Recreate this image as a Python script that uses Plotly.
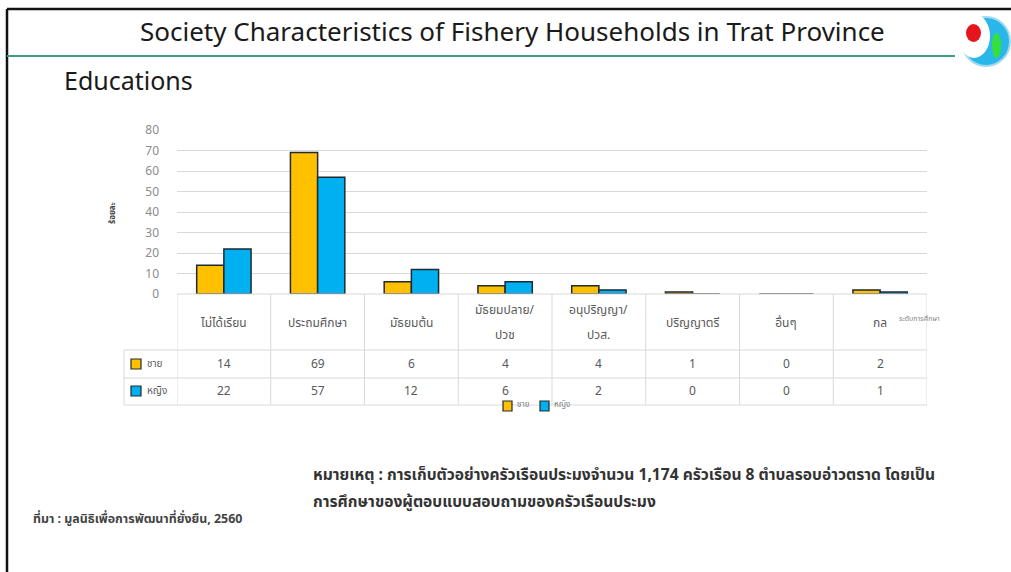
import plotly.graph_objects as go

# Education level of fishery household members (percent)
categories = ["ไม่ได้เรียน", "ประถมศึกษา", "มัธยมต้น", "มัธยมปลาย/ปวช",
              "อนุปริญญา/ปวส.", "ปริญญาตรี", "อื่นๆ", "กล"]
header_lines = [["ไม่ได้เรียน"], ["ประถมศึกษา"], ["มัธยมต้น"], ["มัธยมปลาย/", "ปวช"],
                ["อนุปริญญา/", "ปวส."], ["ปริญญาตรี"], ["อื่นๆ"], ["กล"]]
male = [14, 69, 6, 4, 4, 1, 0, 2]
female = [22, 57, 12, 6, 2, 0, 0, 1]
series_names = ["ชาย", "หญิง"]
y_ticks = [0, 10, 20, 30, 40, 50, 60, 70, 80]

W, H = 1011, 572
L, R, T, B = 177, 927, 130, 294  # plot area in pixels

def px(x):
    return (x - L) / (R - L)

def py(y):
    return (B - y) / (B - T)

THAI = "Tahoma, Noto Sans Thai, Noto Sans, sans-serif"
ORANGE = "#FFC000"
BLUE = "#00B0F0"
EDGE = "#1f2a33"
GRID = "#d9d9d9"
TXT = "#595959"

fig = go.Figure()
for name, vals, col in [(series_names[0], male, ORANGE), (series_names[1], female, BLUE)]:
    fig.add_trace(go.Bar(
        x=categories, y=vals, name=name,
        marker=dict(color=col, line=dict(color=EDGE, width=1.5)),
        hoverinfo="x+y", showlegend=False,
    ))

shapes = []
ann = []

def text(x, y, s, size, color, anchor="left", family=THAI, **kw):
    ann.append(dict(x=x, y=y, xref="paper", yref="paper", text=s, showarrow=False,
                    xanchor=anchor, yanchor="middle", font=dict(family=family, size=size, color=color), **kw))

# slide frame and title rule
shapes.append(dict(type="line", xref="paper", yref="paper", x0=px(7), x1=px(W), y0=py(9), y1=py(9),
                   line=dict(color="#111111", width=2.5)))
shapes.append(dict(type="line", xref="paper", yref="paper", x0=px(7), x1=px(7), y0=py(9), y1=py(H),
                   line=dict(color="#111111", width=2.5)))
shapes.append(dict(type="line", xref="paper", yref="paper", x0=px(7), x1=px(955), y0=py(56), y1=py(56),
                   line=dict(color="#3e9e7e", width=2)))

# emblem
shapes.append(dict(type="circle", xref="paper", yref="paper", x0=px(962), x1=px(1010), y0=py(17), y1=py(66),
                   fillcolor="#29b6e8", line=dict(color="#9fd9ef", width=2)))
shapes.append(dict(type="circle", xref="paper", yref="paper", x0=px(958), x1=px(990), y0=py(14), y1=py(58),
                   fillcolor="white", line=dict(width=0)))
shapes.append(dict(type="circle", xref="paper", yref="paper", x0=px(966), x1=px(981), y0=py(24), y1=py(42),
                   fillcolor="#e8141b", line=dict(width=0)))
shapes.append(dict(type="circle", xref="paper", yref="paper", x0=px(992), x1=px(1001), y0=py(33), y1=py(58),
                   fillcolor="#36e03a", line=dict(width=0)))

# data table grid
row_lines = [294, 350, 378, 405]
for i, yy in enumerate(row_lines):
    x0 = px(177) if i == 0 else px(124)
    shapes.append(dict(type="line", xref="paper", yref="paper", x0=x0, x1=1, y0=py(yy), y1=py(yy),
                       line=dict(color=GRID, width=1)))
for k in range(len(categories) + 1):
    shapes.append(dict(type="line", xref="x", yref="paper", x0=k - 0.5, x1=k - 0.5, y0=py(294), y1=py(405),
                       line=dict(color=GRID, width=1)))
shapes.append(dict(type="line", xref="paper", yref="paper", x0=px(124), x1=px(124), y0=py(350), y1=py(405),
                   line=dict(color=GRID, width=1)))

# series keys in the table rows and in the legend below it
for yy, col, name in [(364, ORANGE, series_names[0]), (391, BLUE, series_names[1])]:
    shapes.append(dict(type="rect", xref="paper", yref="paper", x0=px(131), x1=px(141), y0=py(yy - 5), y1=py(yy + 5),
                       fillcolor=col, line=dict(color=EDGE, width=1.2)))
    text(px(145), py(yy), name, 10, TXT)
for x0, col, name in [(503, ORANGE, series_names[0]), (540, BLUE, series_names[1])]:
    shapes.append(dict(type="rect", xref="paper", yref="paper", x0=px(x0), x1=px(x0 + 9), y0=py(401), y1=py(411),
                       fillcolor=col, line=dict(color=EDGE, width=1.2)))
    text(px(x0 + 12), py(405), name, 8, "#7f7f7f")

# header row and value rows
for cat, lines in zip(categories, header_lines):
    ys = [323] if len(lines) == 1 else [310, 335]
    for yy, s in zip(ys, lines):
        ann.append(dict(x=cat, y=py(yy), xref="x", yref="paper", text=s, showarrow=False,
                        xanchor="center", yanchor="middle", font=dict(family=THAI, size=12, color=TXT)))
for cat, m, f in zip(categories, male, female):
    for yy, v in [(364, m), (391, f)]:
        ann.append(dict(x=cat, y=py(yy), xref="x", yref="paper", text=str(v), showarrow=False,
                        xanchor="center", yanchor="middle", font=dict(family=THAI, size=12, color=TXT)))

# titles and notes
text(px(512), py(31), "Society Characteristics of Fishery Households in Trat Province", 26, "#1a1a1a",
     anchor="center", family="Noto Sans, sans-serif")
text(px(62), py(80), "Educations", 25, "#1a1a1a", family="Noto Sans, sans-serif")
text(px(113), py(213), "<b>ร้อยละ</b>", 8, "#404040", anchor="center", textangle=-90)
text(px(897), py(319), "ระดับการศึกษา", 7, "#7f7f7f")
text(px(311), py(475), "<b>หมายเหตุ : การเก็บตัวอย่างครัวเรือนประมงจำนวน 1,174 ครัวเรือน 8 ตำบลรอบอ่าวตราด โดยเป็น</b>",
     15.6, "#333333")
text(px(311), py(502), "<b>การศึกษาของผู้ตอบแบบสอบถามของครัวเรือนประมง</b>", 15.6, "#333333")
text(px(31), py(519), "<b>ที่มา : มูลนิธิเพื่อการพัฒนาที่ยั่งยืน, 2560</b>", 12.4, "#444444")

fig.update_layout(
    width=W, height=H,
    margin=dict(l=L, r=W - R, t=T, b=H - B, pad=0),
    paper_bgcolor="white", plot_bgcolor="white",
    barmode="group", bargap=0.42, bargroupgap=0,
    showlegend=False,
    xaxis=dict(showticklabels=False, showgrid=False, zeroline=False, showline=False,
               range=[-0.5, len(categories) - 0.5], fixedrange=True),
    yaxis=dict(range=[0, 80], tickvals=y_ticks, showgrid=True, gridcolor=GRID, gridwidth=1,
               zeroline=False, showline=False, ticks="", ticklabelstandoff=17,
               tickfont=dict(family="Noto Sans, sans-serif", size=12, color="#8c8c8c"), fixedrange=True),
    shapes=shapes, annotations=ann,
)

fig.write_html("out.html")
